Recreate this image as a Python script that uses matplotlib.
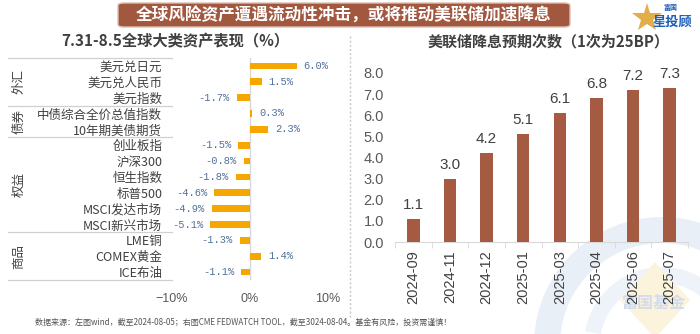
import matplotlib
matplotlib.use("Agg")
import matplotlib.pyplot as plt
from matplotlib.patches import FancyBboxPatch, Wedge, Polygon
from matplotlib.lines import Line2D
from matplotlib.transforms import IdentityTransform

plt.rcParams['font.family'] = ['Noto Sans CJK SC', 'DejaVu Sans']

# ---- data ----
asset_names = ['美元兑日元', '美元兑人民币', '美元指数', '中债综合全价总值指数', '10年期美债期货',
               '创业板指', '沪深300', '恒生指数', '标普500', 'MSCI发达市场', 'MSCI新兴市场',
               'LME铜', 'COMEX黄金', 'ICE布油']
asset_returns = [6.0, 1.5, -1.7, 0.3, 2.3, -1.5, -0.8, -1.8, -4.6, -4.9, -5.1, -1.3, 1.4, -1.1]
group_names = ['外汇', '债券', '权益', '商品']
group_sizes = [3, 2, 6, 3]
pct_ticks = [-10, 0, 10]
pct_tick_labels = ['−10%', '0%', '10%']

meeting_months = ['2024-09', '2024-11', '2024-12', '2025-01', '2025-03', '2025-04', '2025-06', '2025-07']
expected_cuts = [1.1, 3.0, 4.2, 5.1, 6.1, 6.8, 7.2, 7.3]
cut_ticks = [0, 1, 2, 3, 4, 5, 6, 7, 8]

W, H = 700, 334
fig = plt.figure(figsize=(7.0, 3.34), dpi=100)
fig.patch.set_facecolor('white')


def fx(px):
    return px / W


def fy(py):
    return 1 - py / H


TEXT = '#404040'
GREY = '#595959'
ORANGE = '#F5A700'
BROWN = '#A45B42'
VALBLUE = '#52719A'
LATIN = ['Liberation Sans', 'DejaVu Sans']

# ---- background watermark (drawn in pixel space) ----
px = IdentityTransform()
fig.patches.append(Wedge((662, H - 345), 128, 10, 182, width=26, transform=px,
                         facecolor='#E8EFF7', edgecolor='none', zorder=-5))
fig.patches.append(Wedge((662, H - 345), 78, 20, 170, width=16, transform=px,
                         facecolor='#EEF3F9', edgecolor='none', zorder=-5))
fig.patches.append(Polygon([(655, H - 262), (690, H - 300), (655, H - 338), (620, H - 300)],
                           closed=True, transform=px, facecolor='#FCF3DC',
                           edgecolor='none', zorder=-4))
fig.text(fx(654), fy(303), '富国基金', ha='center', va='center', fontsize=11.5,
         color='#D3DCEA', fontweight='bold', zorder=-3)

# ---- headline banner ----
banner = FancyBboxPatch((fx(118), fy(27)), fx(452), 24 / H,
                        boxstyle='round,pad=0,rounding_size=0.008',
                        transform=fig.transFigure, facecolor='#A2573F',
                        edgecolor='#DDBFB2', linewidth=1.0)
fig.patches.append(banner)
fig.text(fx(344), fy(15.5), '全球风险资产遭遇流动性冲击，或将推动美联储加速降息',
         ha='center', va='center', fontsize=12, color='white', fontweight='heavy')

# logo
fig.add_artist(Line2D([fx(647)], [fy(18)], transform=fig.transFigure, marker='*',
                      markersize=22, color='#E2AE4A', markeredgewidth=0, zorder=-1))
fig.text(fx(671), fy(7), '富国', ha='center', va='center', fontsize=5, color='#1C5FB5',
         fontweight='bold')
fig.text(fx(672), fy(22), '星投顾', ha='center', va='center', fontsize=9.5, color='#1C5FB5',
         fontweight='heavy', style='italic')

# ---- titles ----
fig.text(fx(175), fy(41), '7.31-8.5全球大类资产表现（%）', ha='center', va='center',
         fontsize=11, color=TEXT, fontweight='heavy')
fig.text(fx(548), fy(41), '美联储降息预期次数（1次为25BP）', ha='center', va='center',
         fontsize=10.8, color=TEXT, fontweight='heavy')

# dotted separator
fig.add_artist(Line2D([fx(350), fx(350)], [fy(36), fy(318)], transform=fig.transFigure,
                      color='#C8C8C8', linewidth=1.0, linestyle=(0, (1.5, 1.5))))

# ---- left: asset returns ----
axL = fig.add_axes([fx(172), fy(280), fx(156), (280 - 58) / H])
axL.set_facecolor('none')
n = len(asset_names)
ypos = list(range(n))
axL.barh(ypos, asset_returns, height=0.42, color=ORANGE, zorder=3)
axL.set_xlim(-10, 10)
axL.set_ylim(n - 0.5, -0.5)
for s in axL.spines.values():
    s.set_visible(False)
axL.axvline(0, color='#D9D9D9', linewidth=1.0, zorder=2)
axL.set_xticks(pct_ticks)
axL.set_xticklabels(pct_tick_labels, family=LATIN)
axL.tick_params(axis='x', length=0, labelsize=9, labelcolor=GREY, pad=9)
axL.set_yticks(ypos)
axL.set_yticklabels(asset_names)
axL.tick_params(axis='y', length=0, labelsize=9, labelcolor=TEXT, pad=7)
for y, v in zip(ypos, asset_returns):
    off = 5 if v >= 0 else -5
    axL.annotate(f'{v:.1f}%', xy=(v, y), xytext=(off, 0), textcoords='offset points',
                 ha='left' if v >= 0 else 'right', va='center', fontsize=7.5,
                 color=VALBLUE, family=['Liberation Mono', 'DejaVu Sans Mono'])

# table rules and group labels
row_px = (280 - 58) / n
bounds = [0]
for g in group_sizes:
    bounds.append(bounds[-1] + g)
for b in bounds:
    yy = 58 + b * row_px
    fig.add_artist(Line2D([fx(8), fx(172)], [fy(yy), fy(yy)], transform=fig.transFigure,
                          color='#D0D0D0', linewidth=0.9))
for name, a, b in zip(group_names, bounds[:-1], bounds[1:]):
    yc = 58 + (a + b) / 2 * row_px
    fig.text(fx(19), fy(yc), name, rotation=90, ha='center', va='center',
             fontsize=9, color=TEXT)

# ---- right: expected rate cuts ----
axR = fig.add_axes([fx(395), fy(242), fx(293), (242 - 73) / H])
axR.set_facecolor('none')
xs = list(range(len(meeting_months)))
axR.bar(xs, expected_cuts, width=0.34, color=BROWN, zorder=3)
axR.set_xlim(-0.5, len(xs) - 0.5)
axR.set_ylim(0, 8)
for k in ['top', 'right', 'left']:
    axR.spines[k].set_visible(False)
axR.spines['bottom'].set_color('#D9D9D9')
axR.set_yticks(cut_ticks)
axR.set_yticklabels([f'{t:.1f}' for t in cut_ticks], family=LATIN)
axR.tick_params(axis='y', length=0, labelsize=10.5, labelcolor=GREY, pad=8)
axR.set_xticks(xs)
axR.set_xticklabels(meeting_months, rotation=90, family=LATIN)
axR.tick_params(axis='x', which='major', length=0, labelsize=10.5, labelcolor=TEXT, pad=6)
axR.set_xticks([x - 0.5 for x in xs] + [len(xs) - 0.5], minor=True)
axR.tick_params(axis='x', which='minor', length=4, color='#D9D9D9', direction='out')
for x, v in zip(xs, expected_cuts):
    axR.annotate(f'{v:.1f}', xy=(x, v), xytext=(0, 5), textcoords='offset points',
                 ha='center', va='bottom', fontsize=11, color=TEXT, family=LATIN)

# ---- source note ----
fig.text(fx(35), fy(322), '数据来源：左图wind，截至2024-08-05；右图CME FEDWATCH TOOL，截至3024-08-04。基金有风险，投资需谨慎！',
         ha='left', va='center', fontsize=5.8, color='#555555')

fig.savefig('out.png', dpi=100)
